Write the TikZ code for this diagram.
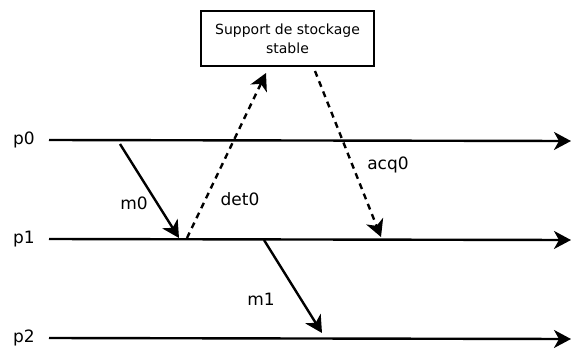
\documentclass[tikz,border=0pt]{standalone}
\usepackage{fontspec}
\setmainfont{DejaVu Sans}
\usetikzlibrary{arrows.meta}
\begin{document}
\begin{tikzpicture}[x=1pt, y=-1pt, line width=2.4pt, >={Stealth[length=17pt, width=18pt, inset=5pt]},
  msg/.style={->},
  ctrl/.style={->, dash pattern=on 6pt off 5pt},
  lbl/.style={font=\fontsize{17}{20}\selectfont, inner sep=1pt}]
  \useasboundingbox (0,0) rectangle (571,349);
  % Stable storage
  \node[draw, line width=2.2pt, minimum width=173pt, minimum height=55pt, align=center,
    font=\fontsize{14}{19}\selectfont] (stockage) at (287.5,38.5) {Support de stockage\\stable};
  % Process lines
  \foreach \p/\y in {0/140, 1/239, 2/338} {
    \node[lbl] (lp\p) at (24,\y) {p\p};
    \coordinate (s\p) at (49,\y);
    \coordinate (e\p) at (571,\y+1);
    \draw[->] (s\p) -- (e\p);
  }
  % Messages
  \coordinate (m0a) at (120,144);
  \coordinate (m0b) at (179,238);
  \coordinate (d0a) at (187,238);
  \coordinate (d0b) at (266,73);
  \coordinate (a0a) at (315,71);
  \coordinate (a0b) at (381,237);
  \coordinate (m1a) at (264,240);
  \coordinate (m1b) at (322,333);
  \draw[msg] (m0a) -- (m0b);
  \draw[ctrl] (d0a) -- (d0b);
  \draw[ctrl] (a0a) -- (a0b);
  \draw[msg] (m1a) -- (m1b);
  \node[lbl] (lm0) at (134,203) {m0};
  \node[lbl] (ld0) at (240,199) {det0};
  \node[lbl] (la0) at (388,165) {acq0};
  \node[lbl] (lm1) at (261,299) {m1};
\end{tikzpicture}
\end{document}
